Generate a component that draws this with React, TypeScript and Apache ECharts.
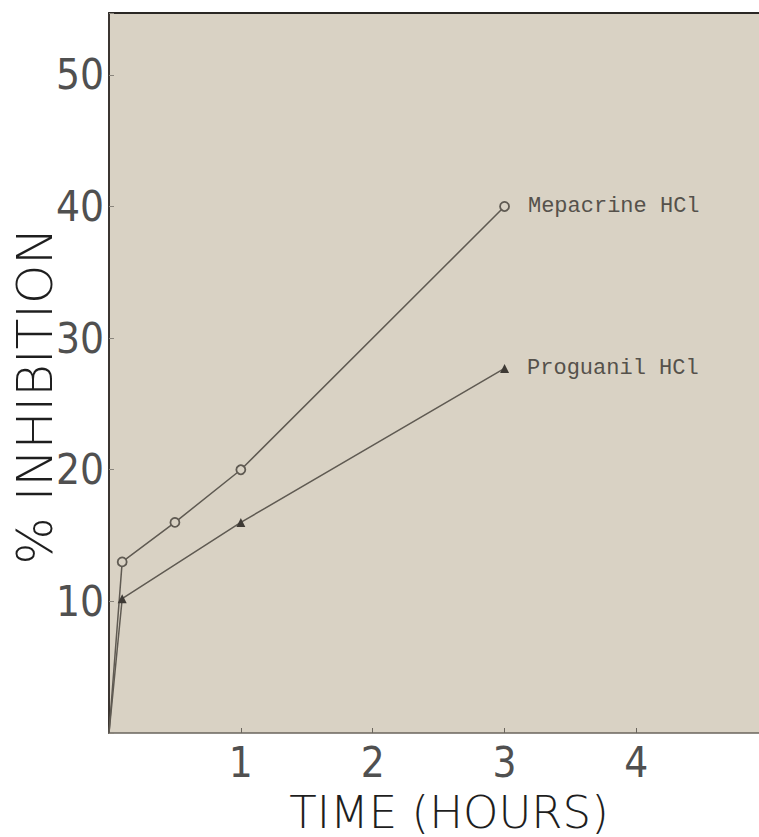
import React, { useEffect, useRef } from "react";
import * as echarts from "echarts";

const timeHours = [0, 0.1, 0.5, 1, 3];
const mepacrine = [0, 13, 16, 20, 40];
const proguanilTime = [0, 0.1, 1, 3];
const proguanil = [0, 10.2, 16, 27.7];
const yTicks = [10, 20, 30, 40, 50];
const xTicks = [1, 2, 3, 4];
const seriesNames = ["Mepacrine HCl", "Proguanil HCl"];

const LINE = "#5f5a52";
const BEIGE = "#d9d2c4";

function buildData(xs: number[], ys: number[]) {
  return xs.map((x, i) => {
    const last = i === xs.length - 1;
    return {
      value: [x, ys[i]],
      symbol: i === 0 ? "none" : undefined,
      label: last ? { show: true } : { show: false },
    };
  });
}

export default function App() {
  const ref = useRef<HTMLDivElement>(null);
  useEffect(() => {
    if (!ref.current) return;
    const chart = echarts.init(ref.current, null, { renderer: "svg" });
    const tickFont = {
      fontFamily: "'Liberation Sans Narrow', 'DejaVu Sans Condensed', sans-serif",
      fontSize: 42,
      color: "#505050",
    };
    const labelStyle = {
      position: "right" as const,
      distance: 18,
      fontFamily: "'Liberation Mono', 'DejaVu Sans Mono', monospace",
      fontSize: 22,
      color: "#55514b",
      formatter: (p: any) => p.seriesName,
    };
    chart.setOption({
      animation: false,
      backgroundColor: "#ffffff",
      grid: {
        left: 109,
        right: 0,
        top: 13,
        bottom: 104,
        show: true,
        backgroundColor: BEIGE,
        borderWidth: 0,
        outerBoundsMode: "none",
        containLabel: false,
      },
      xAxis: [
        {
          type: "value",
          min: 0,
          max: 4.93,
          interval: 1,
          axisLine: { show: true, lineStyle: { color: "#6a655d", width: 1.5 } },
          axisTick: { show: true, inside: true, length: 5, lineStyle: { color: "#6a655d" } },
          splitLine: { show: false },
          axisLabel: {
            ...tickFont,
            margin: 8,
            formatter: (v: number) => (xTicks.includes(v) ? String(v) : ""),
          },
          name: "TIME (HOURS)",
          nameLocation: "middle",
          nameGap: 60,
          nameTextStyle: {
            fontFamily: "'DejaVu Sans', sans-serif",
            fontWeight: 200,
            fontSize: 45,
            lineHeight: 38,
            color: "#1e1e1e",
            padding: [0, 0, 0, 30],
          },
        },
        {
          type: "value",
          position: "top",
          min: 0,
          max: 4.93,
          axisLine: { show: true, lineStyle: { color: "#2a2724", width: 2 } },
          axisTick: { show: false },
          axisLabel: { show: false },
          splitLine: { show: false },
        },
      ],
      yAxis: {
        type: "value",
        min: 0,
        max: 54.7,
        interval: 10,
        axisLine: { show: true, lineStyle: { color: "#3b3531", width: 2 } },
        axisTick: { show: true, inside: true, length: 5, lineStyle: { color: "#8a857c" } },
        splitLine: { show: false },
        axisLabel: {
          ...tickFont,
          margin: 5,
          formatter: (v: number) => (yTicks.includes(v) ? String(v) : ""),
        },
        name: "% INHIBITION",
        nameLocation: "middle",
        nameRotate: 90,
        nameGap: 52,
        nameMoveOverlap: false,
        nameTextStyle: {
          fontFamily: "'DejaVu Sans', sans-serif",
          fontWeight: 200,
          fontSize: 50,
          lineHeight: 44,
          color: "#1e1e1e",
          padding: [0, 46, 0, 0],
        },
      },
      series: [
        {
          name: seriesNames[0],
          type: "line",
          xAxisIndex: 0,
          data: buildData(timeHours, mepacrine),
          symbol: "circle",
          symbolSize: 9,
          lineStyle: { color: LINE, width: 1.5 },
          itemStyle: { color: BEIGE, borderColor: LINE, borderWidth: 1.8 },
          label: labelStyle,
          z: 3,
        },
        {
          name: seriesNames[1],
          type: "line",
          xAxisIndex: 0,
          data: buildData(proguanilTime, proguanil),
          symbol: "triangle",
          symbolSize: 9,
          lineStyle: { color: LINE, width: 1.5 },
          itemStyle: { color: "#3e3a35" },
          label: labelStyle,
          z: 3,
        },
      ],
    });
    return () => chart.dispose();
  }, []);
  return (
    <div
      ref={ref}
      style={{ position: "fixed", left: 0, top: 0, width: 759, height: 837 }}
    />
  );
}
